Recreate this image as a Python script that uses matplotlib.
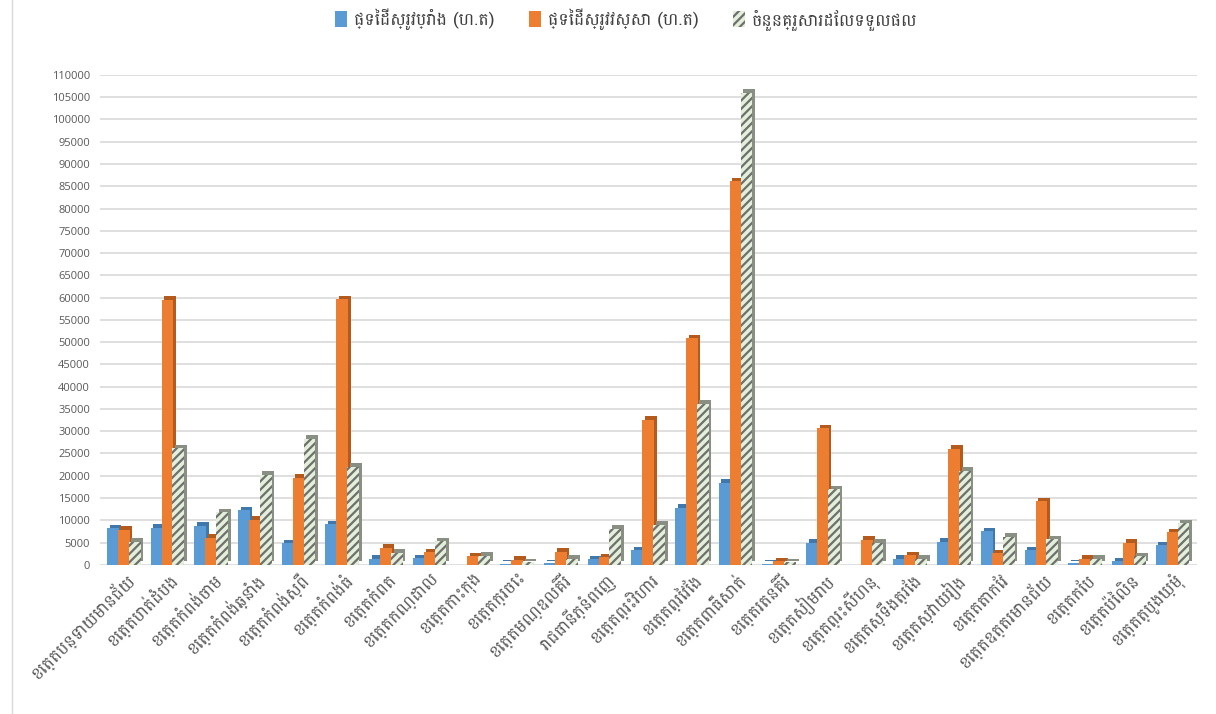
import matplotlib
matplotlib.use("Agg")
import matplotlib.pyplot as plt
import numpy as np

# data (hectares / number of families per province)
provinces = ["ខេត្តបន្ទាយមានជ័យ", "ខេត្តបាត់ដំបង", "ខេត្តកំពង់ចាម", "ខេត្តកំពង់ឆ្នាំង",
             "ខេត្តកំពង់ស្ពឺ", "ខេត្តកំពង់ធំ", "ខេត្តកំពត", "ខេត្តកណ្ដាល", "ខេត្តកោះកុង",
             "ខេត្តក្រចេះ", "ខេត្តមណ្ឌលគិរី", "រាជធានីភ្នំពេញ", "ខេត្តព្រះវិហារ", "ខេត្តព្រៃវែង",
             "ខេត្តពោធិ៍សាត់", "ខេត្តរតនគិរី", "ខេត្តសៀមរាប", "ខេត្តព្រះសីហនុ", "ខេត្តស្ទឹងត្រែង",
             "ខេត្តស្វាយរៀង", "ខេត្តតាកែវ", "ខេត្តឧត្តរមានជ័យ", "ខេត្តកែប", "ខេត្តប៉ៃលិន",
             "ខេត្តត្បូងឃ្មុំ"]
dry_rice = [8200, 8300, 8700, 12200, 4800, 9100, 1300, 1500, 0, 200, 300, 1200, 3300,
            12800, 18400, 200, 5000, 0, 1400, 5200, 7500, 3300, 300, 800, 4400]
wet_rice = [7800, 59500, 6000, 10100, 19500, 59600, 3800, 2800, 1900, 1100, 2900, 1700, 32500,
            50900, 86100, 800, 30700, 5600, 2100, 26000, 2600, 14300, 1300, 4900, 7300]
families = [5200, 26200, 11800, 20200, 28300, 22000, 2700, 5300, 2000, 600, 1400, 8100, 9000,
            36100, 106000, 600, 17000, 5000, 1400, 21100, 6300, 5700, 1400, 1900, 9300]
legend_labels = ["ផ្ទៃដីស្រូវប្រាំង (ហ.ត)", "ផ្ទៃដីស្រូវវស្សា (ហ.ត)", "ចំនួនគ្រួសារដែលទទួលផល"]

khmer = ["Battambang", "DejaVu Sans"]
plt.rcParams["font.family"] = khmer
plt.rcParams["hatch.color"] = "#6f6f6f"
plt.rcParams["hatch.linewidth"] = 1.6

fig = plt.figure(figsize=(12.16, 7.14), dpi=100)
ax = fig.add_axes([0.082, 0.209, 0.902, 0.686])

x = np.arange(len(provinces))
w = 0.27
off = 0.25
dx, dy = 0.06, 800

series = [(dry_rice, -off, "#5B9BD5", "#3f78ad", None, "#5B9BD5"),
          (wet_rice, 0, "#ED7D31", "#b35a1c", None, "#ED7D31"),
          (families, off, "#E2EFD9", "#8a8f84", "////", "#6f6f6f")]
handles = []
for vals, o, col, dark, hatch, ec in series:
    vals = np.array(vals)
    # darker copy behind, shifted a little, for the 3d look
    ax.bar(x + o + dx, vals, w, bottom=np.where(vals > 0, dy, 0), color=dark, zorder=2)
    h = ax.bar(x + o, vals, w, color=col, hatch=hatch, edgecolor=ec, linewidth=0, zorder=3)
    handles.append(h)

ax.set_xlim(-0.55, len(provinces) - 0.45)
ax.set_ylim(0, 110000)
ax.set_yticks(np.arange(0, 110001, 5000))
ax.grid(axis="y", color="#d9d9d9", linewidth=1.2, zorder=0)
ax.set_axisbelow(True)
for s in ax.spines.values():
    s.set_visible(False)
ax.tick_params(axis="both", length=0, colors="#595959")
ax.tick_params(axis="y", pad=7)
for t in ax.get_yticklabels():
    t.set_fontfamily("Open Sans")
    t.set_fontsize(8)
ax.set_xticks(x)
ax.set_xticklabels(provinces, rotation=45, ha="right", rotation_mode="anchor", fontsize=12.5)

ax.legend(handles, legend_labels, loc="lower center", bbox_to_anchor=(0.48, 1.06), ncol=3,
          frameon=False, fontsize=12.5, handlelength=0.7, handleheight=1.0, columnspacing=2.0,
          handletextpad=0.4, labelcolor="#404040")

fig.add_artist(plt.Line2D([0.01, 0.01], [0, 1], color="#d9d9d9", lw=1))
fig.savefig("out.png", dpi=100)
